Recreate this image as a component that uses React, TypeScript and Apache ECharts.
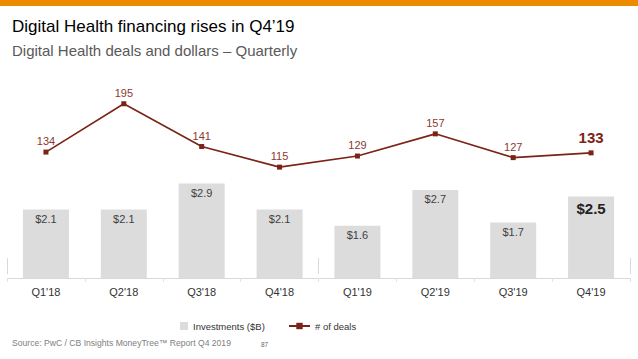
import React, { useEffect, useRef } from "react";
import * as echarts from "echarts";

const categories = ["Q1'18", "Q2'18", "Q3'18", "Q4'18", "Q1'19", "Q2'19", "Q3'19", "Q4'19"];
const years = ["2018", "2019"];
const investments = [2.1, 2.1, 2.9, 2.1, 1.6, 2.7, 1.7, 2.5];
const deals = [134, 195, 141, 115, 129, 157, 127, 133];

const FONT = "'Liberation Sans', Arial, sans-serif";

export default function App() {
  const ref = useRef<HTMLDivElement>(null);
  useEffect(() => {
    if (!ref.current) return;
    const chart = echarts.init(ref.current, undefined, { renderer: "svg" });
    const last = categories.length - 1;
    chart.setOption({
      animation: false,
      textStyle: { fontFamily: FONT },
      grid: { left: 7, right: 8, top: 80, bottom: 81, containLabel: false },
      legend: [
        {
          left: 175,
          top: 316,
          itemWidth: 8,
          itemHeight: 8,
          itemGap: 6,
          textStyle: { fontSize: 9.5, color: "#333", fontFamily: FONT },
          data: [{ name: "Investments ($B)", icon: "rect", itemStyle: { color: "#dcdcdc" } }],
        },
        {
          left: 283,
          top: 316,
          itemWidth: 21,
          itemHeight: 8,
          itemGap: 6,
          textStyle: { fontSize: 9.5, color: "#333", fontFamily: FONT },
          data: [{ name: "# of deals" }],
        },
      ],
      xAxis: [
        {
          type: "category",
          data: categories,
          boundaryGap: true,
          axisLine: { lineStyle: { color: "#d9d9d9", width: 1 } },
          axisTick: { show: true, length: 4, lineStyle: { color: "#e3e3e3" } },
          axisLabel: { fontSize: 11, color: "#333", margin: 8, fontFamily: FONT },
        },
        {
          type: "category",
          data: years,
          position: "bottom",
          boundaryGap: true,
          axisLine: { show: false },
          axisTick: { show: true, length: 16, lineStyle: { color: "#d9d9d9" } },
          axisLabel: { show: false },
        },
      ],
      yAxis: [
        { type: "value", min: 0, max: 6.07, show: false, splitLine: { show: false } },
        { type: "value", min: -25, max: 225, show: false, splitLine: { show: false } },
      ],
      series: [
        {
          name: "Investments ($B)",
          type: "bar",
          xAxisIndex: 0,
          yAxisIndex: 0,
          barWidth: 46,
          itemStyle: { color: "#dcdcdc" },
          label: {
            show: true,
            position: "insideTop",
            distance: 4,
            fontSize: 11,
            color: "#404040",
            formatter: (p: any) => "$" + Number(p.value).toFixed(1),
          },
          data: investments.map((v, i) =>
            i === last
              ? { value: v, label: { fontSize: 15, fontWeight: "bold", color: "#222", distance: 5 } }
              : v
          ),
        },
        {
          name: "# of deals",
          type: "line",
          xAxisIndex: 0,
          yAxisIndex: 1,
          symbol: "rect",
          symbolSize: 5,
          lineStyle: { color: "#7b2316", width: 1.6 },
          itemStyle: { color: "#7b2316" },
          label: {
            show: true,
            position: "top",
            distance: 3,
            fontSize: 11,
            color: "#8b3a2e",
          },
          data: deals.map((v, i) =>
            i === last
              ? { value: v, label: { fontSize: 15, fontWeight: "bold", color: "#7b2316", distance: 5 } }
              : v
          ),
        },
      ],
      graphic: [
        { type: "rect", left: 0, top: 0, shape: { width: 638, height: 6 }, style: { fill: "#eb8c00" } },
        {
          type: "text",
          left: 12,
          top: 18,
          style: { text: "Digital Health financing rises in Q4\u201919", fontSize: 17, fill: "#000", fontFamily: FONT },
        },
        {
          type: "text",
          left: 12,
          top: 43,
          style: { text: "Digital Health deals and dollars \u2013 Quarterly", fontSize: 15, fill: "#595959", fontFamily: FONT },
        },
        {
          type: "text",
          left: 12,
          top: 338,
          style: { text: "Source: PwC / CB Insights MoneyTree\u2122 Report Q4 2019", fontSize: 8.6, fill: "#808080", fontFamily: FONT },
        },
        {
          type: "text",
          left: 261,
          top: 341,
          style: { text: "87", fontSize: 6.5, fill: "#666", fontFamily: FONT },
        },
      ],
    });
    return () => chart.dispose();
  }, []);
  return (
    <div
      ref={ref}
      style={{ position: "fixed", left: 0, top: 0, width: 638, height: 359, background: "#fff" }}
    />
  );
}
